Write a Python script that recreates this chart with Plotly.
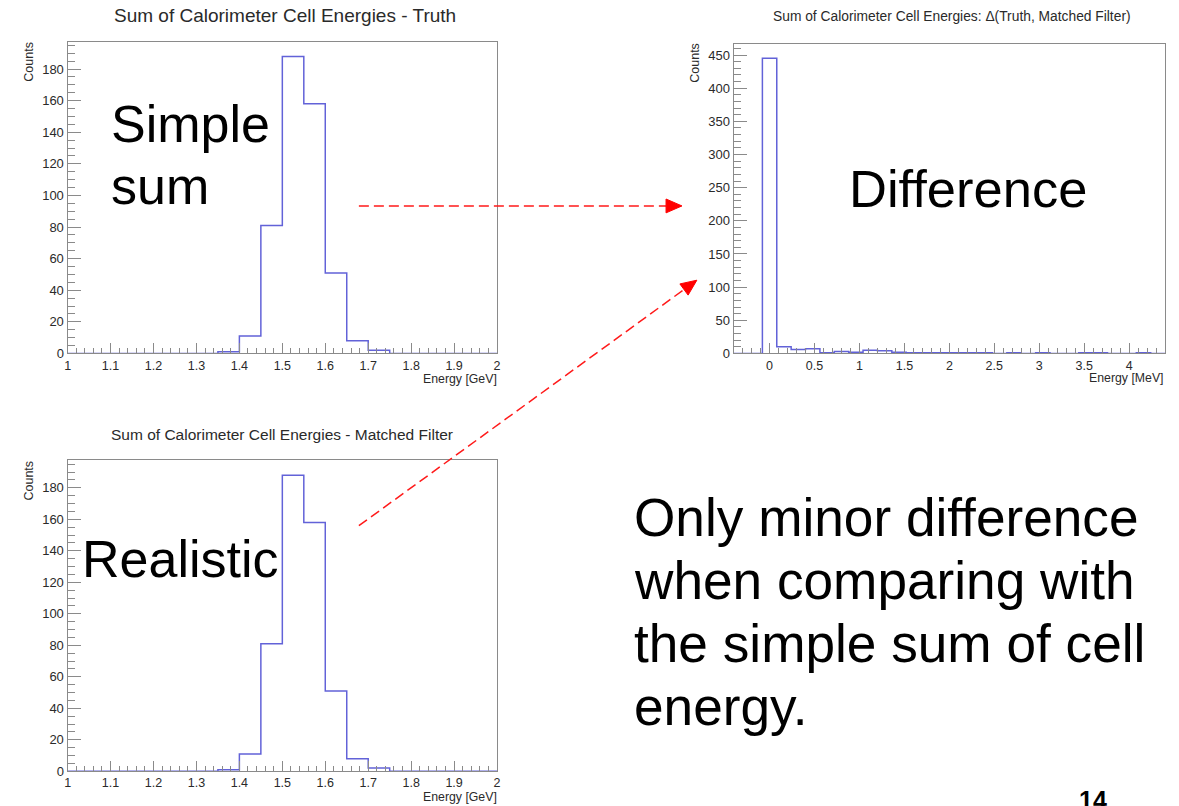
import plotly.graph_objects as go

# ---------------- data ----------------
truth_edges = [1.00, 1.05, 1.10, 1.15, 1.20, 1.25, 1.30, 1.35, 1.40, 1.45, 1.50,
               1.55, 1.60, 1.65, 1.70, 1.75, 1.80, 1.85, 1.90, 1.95, 2.00]
truth_counts = [0, 0, 0, 0, 0, 0, 0, 1, 11, 81, 188, 158, 51, 8, 2, 0, 0, 0, 0, 0]

matched_edges = [1.00, 1.05, 1.10, 1.15, 1.20, 1.25, 1.30, 1.35, 1.40, 1.45, 1.50,
                 1.55, 1.60, 1.65, 1.70, 1.75, 1.80, 1.85, 1.90, 1.95, 2.00]
matched_counts = [0, 0, 0, 0, 0, 0, 0, 1, 11, 81, 188, 158, 51, 8, 2, 0, 0, 0, 0, 0]

diff_edges = [-0.40, -0.24, -0.08, 0.08, 0.24, 0.40, 0.56, 0.72, 0.88, 1.04, 1.20,
              1.36, 1.52, 1.68, 1.84, 2.00, 2.16, 2.32, 2.48, 2.64, 2.80, 2.96,
              3.12, 3.28, 3.44, 3.60, 3.76, 3.92, 4.08, 4.24, 4.40]
diff_counts = [0, 0, 445, 10, 6, 7, 1, 3, 2, 5, 4, 2, 1, 1, 1, 1, 1, 1, 0, 1,
               0, 1, 0, 0, 1, 1, 0, 0, 1, 0]

titles = ["Sum of Calorimeter Cell Energies - Truth",
          "Sum of Calorimeter Cell Energies: \u0394(Truth, Matched Filter)",
          "Sum of Calorimeter Cell Energies - Matched Filter"]
x_titles = ["Energy [GeV]", "Energy [MeV]", "Energy [GeV]"]
y_title = "Counts"
big_labels = ["Simple", "sum", "Difference", "Realistic"]
note_lines = ["Only minor difference", "when comparing with",
              "the simple sum of cell", "energy."]
page_number = "14"

# ---------------- helpers ----------------
W, H = 1179, 806
FONT = "Liberation Sans, Arial, Helvetica, sans-serif"
HIST_COLOR = "#6262d8"
FRAME = "#8a8a8a"
TXT = "#2a2a2a"


def px(x):
    return x / W


def py(y):
    return 1 - y / H


def step_xy(edges, counts):
    xs = [edges[0]] + list(edges)
    ys = [0] + list(counts) + [0]
    return xs, ys


fig = go.Figure()

panels = [
    (truth_edges, truth_counts, "x", "y"),
    (diff_edges, diff_counts, "x2", "y2"),
    (matched_edges, matched_counts, "x3", "y3"),
]
for edges, counts, xa, ya in panels:
    xs, ys = step_xy(edges, counts)
    fig.add_trace(go.Scatter(x=xs, y=ys, mode="lines", line_shape="hv",
                             line=dict(color=HIST_COLOR, width=1.5),
                             xaxis=xa, yaxis=ya, showlegend=False,
                             hoverinfo="skip"))


def xaxis(domain, rng, dtick, minor, anchor):
    return dict(domain=domain, range=rng, dtick=dtick, tick0=0, anchor=anchor,
                showline=True, linecolor=FRAME, linewidth=1.3, mirror=True,
                ticks="inside", ticklen=10, tickcolor=FRAME, tickwidth=1,
                showgrid=False, zeroline=False,
                tickfont=dict(family=FONT, size=12.5, color=TXT),
                minor=dict(dtick=minor, ticks="inside", ticklen=5,
                           tickcolor=FRAME, tickwidth=1, showgrid=False))


def yaxis(domain, rng, dtick, minor, anchor):
    return dict(domain=domain, range=rng, dtick=dtick, tick0=0, anchor=anchor,
                showline=True, linecolor=FRAME, linewidth=1.3, mirror=True,
                ticks="inside", ticklen=13, tickcolor=FRAME, tickwidth=1,
                showgrid=False, zeroline=False,
                tickfont=dict(family=FONT, size=13, color=TXT),
                minor=dict(dtick=minor, ticks="inside", ticklen=7,
                           tickcolor=FRAME, tickwidth=1, showgrid=False))


ymax_truth = max(truth_counts) * 1.05
ymax_diff = max(diff_counts) * 1.05
ymax_matched = max(matched_counts) * 1.05

fig.update_layout(
    width=W, height=H, autosize=False,
    margin=dict(l=0, r=0, t=0, b=0),
    paper_bgcolor="white", plot_bgcolor="white",
    showlegend=False,
    xaxis=xaxis([px(65), px(497)], [truth_edges[0], truth_edges[-1]], 0.1, 0.02, "y"),
    yaxis=yaxis([py(357), py(42)], [0, ymax_truth], 20, 5, "x"),
    xaxis2=xaxis([px(735), px(1169)], [diff_edges[0], diff_edges[-1]], 0.5, 0.1, "y2"),
    yaxis2=yaxis([py(357), py(44)], [0, ymax_diff], 50, 10, "x2"),
    xaxis3=xaxis([px(65), px(497)], [matched_edges[0], matched_edges[-1]], 0.1, 0.02, "y3"),
    yaxis3=yaxis([py(779), py(465)], [0, ymax_matched], 20, 5, "x3"),
)

ann = []


def text(t, x, y, size, color=TXT, xanchor="center", yanchor="middle", angle=0):
    ann.append(dict(text=t, x=px(x), y=py(y), xref="paper", yref="paper",
                    showarrow=False, xanchor=xanchor, yanchor=yanchor,
                    textangle=angle,
                    font=dict(family=FONT, size=size, color=color)))


# histogram titles
text(titles[0], 284, 16, 19)
text(titles[1], 955, 17, 13.8)
text(titles[2], 281, 439, 15.5)

# axis titles
text(x_titles[0], 499, 383, 12.3, xanchor="right")
text(x_titles[1], 1170, 382, 12.3, xanchor="right")
text(x_titles[2], 499, 804.5, 12.3, xanchor="right")
text(y_title, 26.5, 62, 12.5, angle=-90)
text(y_title, 696, 63.5, 12.5, angle=-90)
text(y_title, 26.5, 485, 12.5, angle=-90)

# big slide labels
text(big_labels[0], 107, 125, 52, color="black", xanchor="left")
text(big_labels[1], 107, 188, 52, color="black", xanchor="left")
text(big_labels[2], 849, 190, 52.5, color="black", xanchor="left")
text(big_labels[3], 77, 565, 52, color="black", xanchor="left")

# explanatory note
for line, yc in zip(note_lines, [523, 586.5, 650, 713.5]):
    text(line, 633, yc, 53.2, color="black", xanchor="left")

# page number
text("<b>" + page_number + "</b>", 1097, 808, 25, color="black")

fig.update_layout(annotations=ann)

# dashed red arrows
shapes = []


def arrow(x0, y0, x1, y1, head_len=16, half_w=7):
    dx, dy = x1 - x0, y1 - y0
    L = (dx * dx + dy * dy) ** 0.5
    ux, uy = dx / L, dy / L
    bx, by = x1 - head_len * ux, y1 - head_len * uy
    nx, ny = -uy, ux
    shapes.append(dict(type="line", xref="paper", yref="paper",
                       x0=px(x0), y0=py(y0), x1=px(bx), y1=py(by),
                       line=dict(color="#ff1a1a", width=1.5, dash="10px,5px")))
    p1 = (bx + half_w * nx, by + half_w * ny)
    p2 = (bx - half_w * nx, by - half_w * ny)
    path = "M {:.5f},{:.5f} L {:.5f},{:.5f} L {:.5f},{:.5f} Z".format(
        px(x1), py(y1), px(p1[0]), py(p1[1]), px(p2[0]), py(p2[1]))
    shapes.append(dict(type="path", xref="paper", yref="paper", path=path,
                       fillcolor="#ff0000", line=dict(color="#ff0000", width=1)))


arrow(358, 208, 683, 208)
arrow(358, 531, 698, 283)

fig.update_layout(shapes=shapes)

fig.write_html("out.html")
